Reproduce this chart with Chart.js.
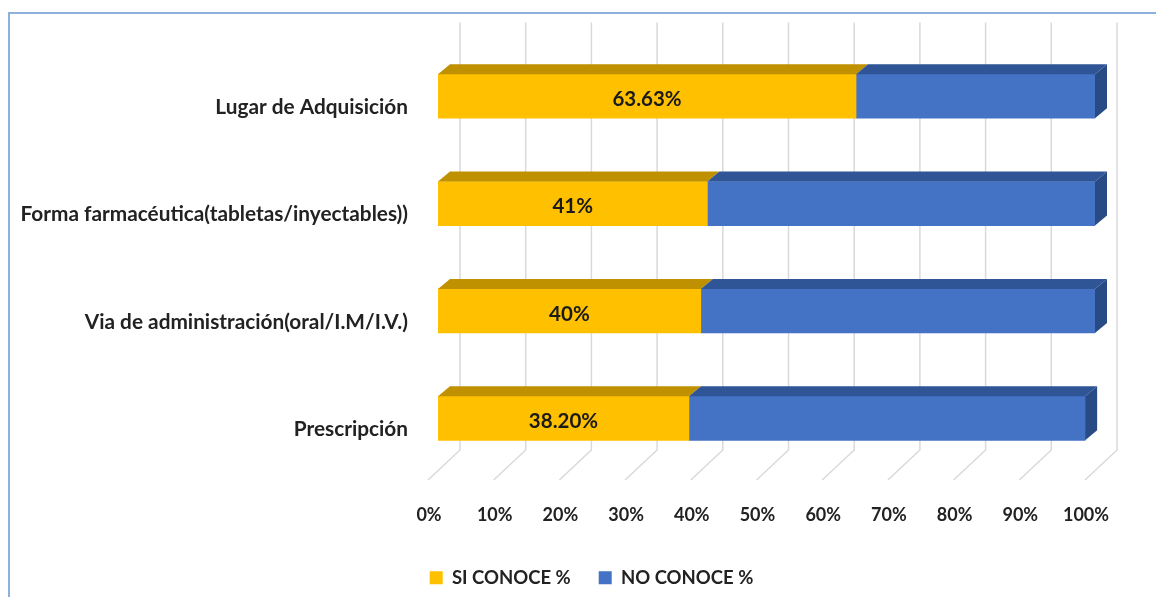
<!DOCTYPE html>
<html>
<head>
<meta charset="utf-8">
<script src="https://cdn.jsdelivr.net/npm/chart.js@4.4.1/dist/chart.umd.min.js"></script>
<style>
  html, body { margin: 0; padding: 0; background: #fff; }
  #wrap { position: relative; width: 1156px; height: 597px; overflow: hidden; }
  #frame { position: absolute; left: 8px; top: 12px; right: -4px; bottom: -4px;
           border-left: 2px solid #8eb1dd; border-top: 2px solid #8eb1dd; }
  canvas { position: absolute; left: 0; top: 0; }
</style>
</head>
<body>
<div id="wrap">
  <div id="frame"></div>
  <canvas id="chart" width="1156" height="597"></canvas>
</div>
<script>
// datos
const categories = ['Lugar de Adquisición', 'Forma farmacéutica(tabletas/inyectables))', 'Via de administración(oral/I.M/I.V.)', 'Prescripción'];
const siConoce = [63.63, 41, 40, 38.2];
const noConoce = [36.37, 59, 60, 60.3];
const siLabels = ['63.63%', '41%', '40%', '38.20%'];
const xTicks = [0, 10, 20, 30, 40, 50, 60, 70, 80, 90, 100];

const FONT = "Lato, sans-serif";

// caras superiores/laterales y rejilla en perspectiva
const caras3d = {
    id: 'caras3d',
    afterLayout(chart) {
        // la leyenda va un poco a la derecha, bajo el área de barras
        if (chart.legend) {
            chart.legend.left += 44;
            chart.legend.right += 44;
        }
    },
    beforeDatasetsDraw(chart) {
        const { ctx, chartArea, scales: { x } } = chart;
        ctx.save();
        ctx.strokeStyle = '#d9d9d9';
        ctx.lineWidth = 1.5;
        x.ticks.forEach(t => {
            const px = x.getPixelForValue(t.value);
            ctx.beginPath();
            ctx.moveTo(px + 22, chartArea.top - 20);
            ctx.lineTo(px + 22, chartArea.bottom - 22);
            ctx.lineTo(px - 10, chartArea.bottom + 8);
            ctx.stroke();
        });
        ctx.restore();
    },
    afterDatasetsDraw(chart) {
        const { ctx } = chart;
        const dx = 12, dy = -10;
        const topColors = ['#bf9000', '#2f5597'];
        const last = chart.data.datasets.length - 1;
        ctx.save();
        chart.data.datasets.forEach((ds, di) => {
            chart.getDatasetMeta(di).data.forEach(bar => {
                const p = bar.getProps(['x', 'y', 'base', 'height'], true);
                const top = p.y - p.height / 2, bottom = p.y + p.height / 2;
                ctx.fillStyle = topColors[di];
                ctx.beginPath();
                ctx.moveTo(p.base, top);
                ctx.lineTo(p.x, top);
                ctx.lineTo(p.x + dx, top + dy);
                ctx.lineTo(p.base + dx, top + dy);
                ctx.closePath();
                ctx.fill();
                if (di === last) {
                    ctx.fillStyle = '#284a85';
                    ctx.beginPath();
                    ctx.moveTo(p.x, top);
                    ctx.lineTo(p.x + dx, top + dy);
                    ctx.lineTo(p.x + dx, bottom + dy);
                    ctx.lineTo(p.x, bottom);
                    ctx.closePath();
                    ctx.fill();
                }
            });
        });
        // etiquetas de SI CONOCE
        ctx.fillStyle = '#1a1a1a';
        ctx.font = 'bold 20.5px ' + FONT;
        ctx.textAlign = 'center';
        ctx.textBaseline = 'middle';
        chart.getDatasetMeta(0).data.forEach((bar, i) => {
            const p = bar.getProps(['x', 'y', 'base'], true);
            ctx.fillText(siLabels[i], (p.base + p.x) / 2, p.y + 3);
        });
        ctx.restore();
    }
};

const ctx = document.getElementById('chart');
new Chart(ctx, {
    type: 'bar',
    data: {
        labels: categories,
        datasets: [
            { label: 'SI CONOCE %', data: siConoce, backgroundColor: '#ffc000', barThickness: 44 },
            { label: 'NO CONOCE %', data: noConoce, backgroundColor: '#4472c4', barThickness: 44 }
        ]
    },
    options: {
        indexAxis: 'y',
        responsive: false,
        animation: false,
        layout: { padding: { top: 41, right: 61, left: 0, bottom: 0 } },
        scales: {
            x: {
                stacked: true,
                min: 0,
                max: 100,
                grid: { display: false, drawTicks: false },
                border: { display: false },
                afterBuildTicks: s => { s.ticks = xTicks.map(v => ({ value: v })); },
                afterFit: s => { s.height = 68.5; },
                ticks: {
                    callback: v => v + '%',
                    labelOffset: -9,
                    padding: 32,
                    color: '#222',
                    font: { family: FONT, size: 18, weight: 'bold' }
                }
            },
            y: {
                stacked: true,
                grid: { display: false, drawTicks: false },
                border: { display: false },
                afterFit: s => { s.width = 438; },
                ticks: {
                    padding: 30,
                    labelOffset: 11,
                    color: '#222',
                    font: { family: FONT, size: 20.8, weight: 'bold' }
                }
            }
        },
        plugins: {
            legend: {
                position: 'bottom',
                labels: {
                    boxWidth: 13,
                    boxHeight: 13,
                    padding: 28,
                    color: '#222',
                    font: { family: FONT, size: 18.5, weight: 'bold' }
                }
            },
            tooltip: { enabled: false }
        }
    },
    plugins: [caras3d]
});
</script>
</body>
</html>
